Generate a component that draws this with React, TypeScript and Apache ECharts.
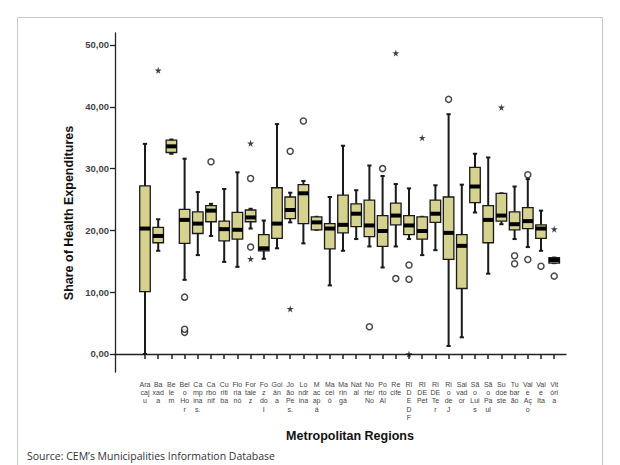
import React, { useEffect, useRef } from "react";
import * as echarts from "echarts";

const categories = [
  "Ara\ncaj\nu", "Ba\nxad\na", "Be\nle\nm", "Bel\no\nHo\nr", "Ca\nmp\nina\ns.", "Ca\nrbo\nnif",
  "Cu\nriti\nba", "Flo\nria\nnó", "For\ntale\nz", "Fo\nz\ndo\nI", "Goi\nân\na", "Jo\não\nPe\ns.",
  "Lo\nndr\nina", "M\nac\nap\ná", "Ma\ncei\nó", "Ma\nrin\ngá", "Nat\nal", "No\nrte/\nNo",
  "Po\nrto\nAl", "Re\ncife", "RI\nD\nE\nD\nF", "RI\nDE\nPet", "RI\nDE\nTe\nr", "Ri\no\nde\nJ",
  "Sal\nvad\nor", "Sã\no\nLui\ns", "Sã\no\nPa\nul", "Su\ndoe\nste", "Tu\nbar\não", "Val\ne\nAç\no",
  "Val\ne\nIta", "Vit\nóri\na",
];

const whiskerLow = [0.0, 16.7, 32.4, 12.0, 16.0, 19.1, 14.9, 14.1, 20.3, 15.4, 17.1, 21.3, 17.9, 20.1, 11.1, 16.7, 18.6, 17.4, 14.0, 17.4, 18.6, 16.0, 16.8, 1.3, 2.7, 22.9, 13.0, 21.0, 18.6, 17.3, 16.7, 14.7];
const q1 = [10.1, 18.0, 32.6, 17.9, 19.5, 21.4, 18.3, 18.6, 21.4, 16.7, 18.7, 21.9, 21.1, 20.1, 17.0, 19.6, 20.6, 19.0, 17.4, 20.9, 19.3, 18.6, 21.3, 15.3, 10.6, 24.5, 18.0, 21.5, 20.1, 20.3, 18.7, 14.7];
const median = [20.3, 19.1, 33.6, 21.7, 21.1, 23.2, 20.2, 20.1, 22.1, 17.1, 21.1, 23.3, 26.0, 21.3, 20.3, 20.9, 22.7, 20.8, 19.9, 22.4, 20.8, 19.9, 22.7, 19.6, 17.5, 27.1, 21.7, 22.4, 21.0, 21.5, 20.3, 15.2];
const q3 = [27.2, 20.5, 34.6, 23.4, 23.0, 24.0, 21.5, 22.9, 23.3, 19.3, 26.9, 25.4, 27.4, 22.2, 21.1, 25.7, 24.3, 24.9, 22.4, 24.4, 22.4, 22.2, 24.9, 25.4, 19.3, 30.2, 24.0, 26.0, 23.0, 23.7, 20.9, 15.6];
const whiskerHigh = [34.0, 21.8, 34.7, 31.6, 26.2, 24.3, 26.7, 29.4, 23.5, 21.6, 37.2, 26.1, 28.0, 22.2, 25.4, 33.7, 26.5, 30.5, 28.8, 27.5, 26.8, 22.2, 27.3, 38.8, 27.4, 32.4, 31.8, 26.0, 27.1, 28.3, 23.2, 15.6];

// [category index, value]
const outliers = [
  [3, 9.2], [3, 3.5], [3, 4.0], [5, 31.1], [8, 28.4], [8, 17.3], [11, 32.8], [12, 37.7],
  [17, 4.4], [18, 30.0], [19, 12.2], [20, 14.4], [20, 12.1], [23, 41.2], [28, 15.9], [28, 14.6],
  [29, 29.0], [29, 15.3], [30, 14.2], [31, 12.6],
];
const extremes = [
  [1, 45.9], [8, 34.1], [8, 15.4], [11, 7.3], [19, 48.7], [20, 0.0], [21, 35.0], [27, 39.9], [31, 20.2],
];

const yTicks = [0, 10, 20, 30, 40, 50];

const FONT = "'Liberation Sans', Arial, sans-serif";
const BOX_FILL = "#d4d28e";
const INK = "#1a1a1a";
const STAR = "path://M50,0 L61,35 L98,35 L68,57 L79,91 L50,70 L21,91 L32,57 L2,35 L39,35 Z";

const Y_MIN = -2.913;
const Y_MAX = 51.94;

function renderBox(params: any, api: any) {
  const idx = api.value(0);
  const lo = api.coord([idx, api.value(1)]);
  const p1 = api.coord([idx, api.value(2)]);
  const pm = api.coord([idx, api.value(3)]);
  const p3 = api.coord([idx, api.value(4)]);
  const hi = api.coord([idx, api.value(5)]);
  const band = api.size([1, 0])[0];
  const bw = band * 0.8;
  const cw = band * 0.32;
  const x = pm[0];
  const lw = 2;
  return {
    type: "group",
    children: [
      { type: "line", shape: { x1: x, y1: hi[1], x2: x, y2: p3[1] }, style: { stroke: INK, lineWidth: lw } },
      { type: "line", shape: { x1: x, y1: p1[1], x2: x, y2: lo[1] }, style: { stroke: INK, lineWidth: lw } },
      { type: "line", shape: { x1: x - cw / 2, y1: hi[1], x2: x + cw / 2, y2: hi[1] }, style: { stroke: INK, lineWidth: lw } },
      { type: "line", shape: { x1: x - cw / 2, y1: lo[1], x2: x + cw / 2, y2: lo[1] }, style: { stroke: INK, lineWidth: lw } },
      {
        type: "rect",
        shape: { x: x - bw / 2, y: p3[1], width: bw, height: p1[1] - p3[1] },
        style: { fill: BOX_FILL, stroke: INK, lineWidth: 1.3 },
      },
      {
        type: "rect",
        shape: { x: x - bw / 2, y: pm[1] - 2, width: bw, height: 4 },
        style: { fill: "#000" },
      },
    ],
  };
}

export default function App() {
  const ref = useRef<HTMLDivElement>(null);
  useEffect(() => {
    if (!ref.current) return;
    const chart = echarts.init(ref.current, null, { renderer: "svg" });
    const boxData = categories.map((_, i) => [i, whiskerLow[i], q1[i], median[i], q3[i], whiskerHigh[i]]);
    chart.setOption({
      animation: false,
      backgroundColor: "#ffffff",
      grid: [
        { left: 115, right: 54, top: 33, bottom: 93 },
        { left: 138.4, right: 59.2, top: 33, bottom: 93 },
      ],
      xAxis: [
        {
          gridIndex: 0, type: "value", min: 0, max: 1,
          axisLine: { show: true, lineStyle: { color: "#222", width: 1.3 } },
          axisTick: { show: false }, axisLabel: { show: false }, splitLine: { show: false },
        },
        {
          gridIndex: 1, type: "category", data: categories, boundaryGap: true,
          axisLine: { show: false },
          axisTick: { show: true, alignWithLabel: true, length: 5, lineStyle: { color: "#222", width: 1.5 } },
          axisLabel: { interval: 0, fontSize: 7, lineHeight: 8.3, color: "#444", margin: 8, fontFamily: FONT },
          splitLine: { show: false },
        },
      ],
      yAxis: [
        {
          gridIndex: 0, type: "value", min: Y_MIN, max: Y_MAX,
          axisLine: { show: true, lineStyle: { color: "#222", width: 1.3 } },
          axisTick: { show: true, length: 5, customValues: yTicks, lineStyle: { color: "#222", width: 1.3 } },
          axisLabel: {
            customValues: yTicks, fontSize: 9.5, fontWeight: "bold", color: "#444", margin: 6, fontFamily: FONT,
            formatter: (v: number) => v.toFixed(2).replace(".", ","),
          },
          splitLine: { show: false },
        },
        { gridIndex: 1, type: "value", min: Y_MIN, max: Y_MAX, show: false },
      ],
      series: [
        {
          type: "custom", xAxisIndex: 1, yAxisIndex: 1, renderItem: renderBox,
          encode: { x: 0, y: [1, 2, 3, 4, 5] }, data: boxData, silent: true,
        },
        {
          type: "scatter", xAxisIndex: 1, yAxisIndex: 1, data: outliers, symbol: "circle", symbolSize: 6,
          itemStyle: { color: "#ffffff", borderColor: INK, borderWidth: 1.5 }, silent: true,
        },
        {
          type: "scatter", xAxisIndex: 1, yAxisIndex: 1, data: extremes, symbol: STAR, symbolSize: 7,
          itemStyle: { color: "#111" }, silent: true,
        },
      ],
      graphic: [
        {
          type: "rect", shape: { x: 17.5, y: 17.5, width: 585, height: 470 },
          style: { fill: "none", stroke: "#c8c8c8", lineWidth: 1 }, silent: true,
        },
        {
          type: "text", x: 69, y: 213, rotation: Math.PI / 2,
          style: { text: "Share of Health Expenditures", fontSize: 12.5, fontWeight: "bold", fill: "#111", fontFamily: FONT, align: "center", verticalAlign: "middle" },
        },
        {
          type: "text", x: 350, y: 436,
          style: { text: "Metropolitan Regions", fontSize: 12.5, fontWeight: "bold", fill: "#111", fontFamily: FONT, align: "center", verticalAlign: "middle" },
        },
        {
          type: "text", x: 27, y: 456,
          style: { text: "Source: CEM’s Municipalities Information Database", fontSize: 10.5, fill: "#333", fontFamily: "'Open Sans', 'Noto Sans', sans-serif", align: "left", verticalAlign: "middle" },
        },
      ],
    });
    return () => chart.dispose();
  }, []);
  return <div ref={ref} style={{ position: "absolute", left: 0, top: 0, width: 620, height: 465 }} />;
}
